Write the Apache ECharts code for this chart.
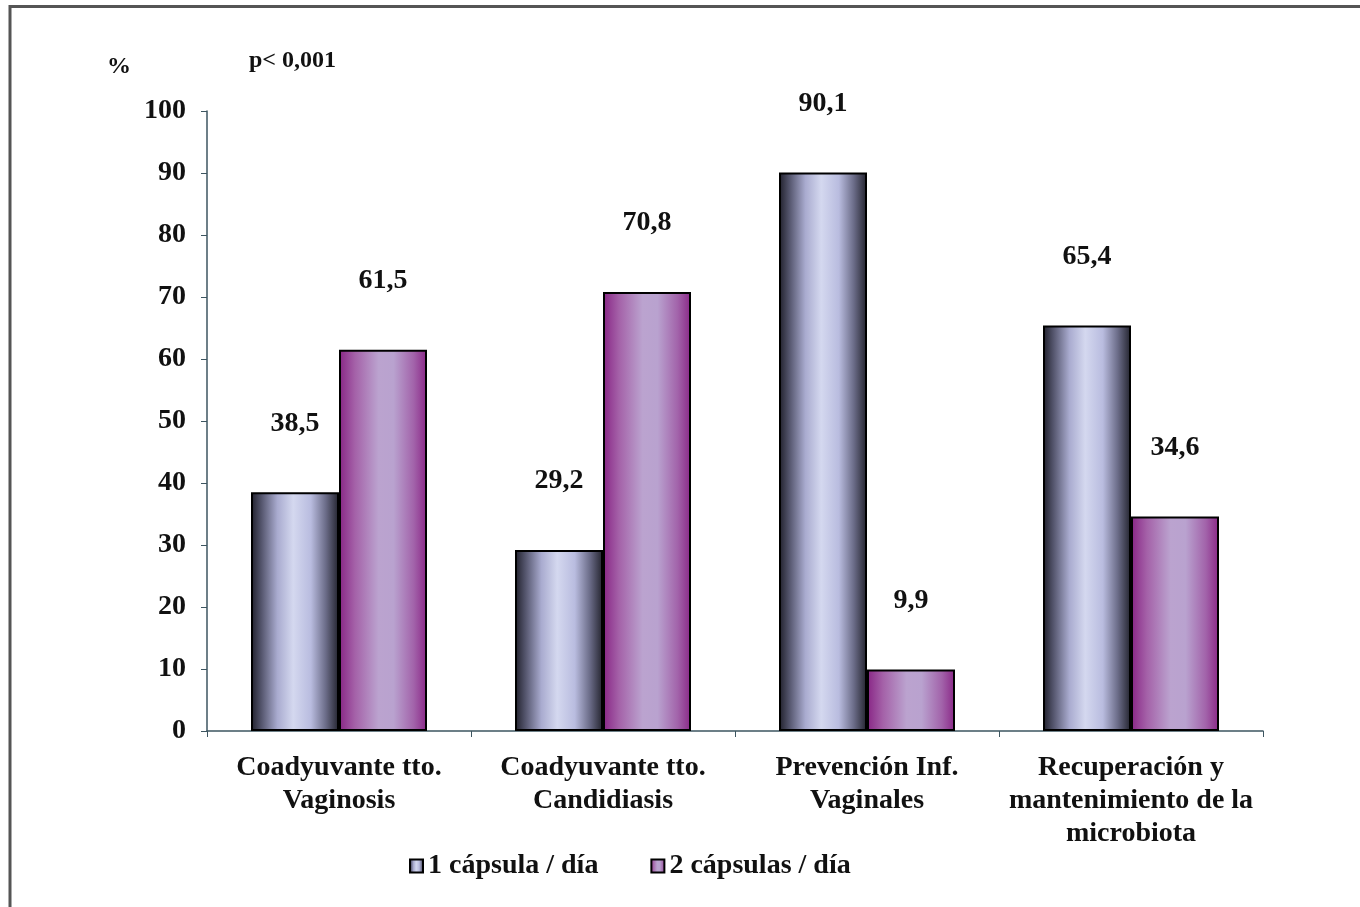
<!DOCTYPE html>
<html>
<head>
<meta charset="utf-8">
<script src="https://cdn.jsdelivr.net/npm/echarts@6/dist/echarts.min.js"></script>
<style>
  html, body { margin: 0; padding: 0; background: #ffffff; }
  #chart { width: 1360px; height: 907px; }
</style>
</head>
<body>
<div id="chart"></div>
<script>
// Categories and percentages per dosage
const categories = [
  'Coadyuvante tto.\nVaginosis',
  'Coadyuvante tto.\nCandidiasis',
  'Prevención Inf.\nVaginales',
  'Recuperación y\nmantenimiento de la\nmicrobiota'
];
const seriesNames = ['1 cápsula / día', '2 cápsulas / día'];
const oneCapsule = [38.5, 29.2, 90.1, 65.4];
const twoCapsules = [61.5, 70.8, 9.9, 34.6];
const yTicks = [0, 10, 20, 30, 40, 50, 60, 70, 80, 90, 100];

const FONT = '"Liberation Serif", "DejaVu Serif", serif';
const SIZE = 28;

const chart = echarts.init(document.getElementById('chart'));

function grad(stops) {
  return new echarts.graphic.LinearGradient(0, 0, 1, 0,
    stops.map(s => ({ offset: s[0], color: s[1] })));
}

const lavender = grad([
  [0, '#1f1f2a'], [0.12, '#55566e'], [0.3, '#a9abcf'],
  [0.48, '#d4d8ef'], [0.68, '#b9bcdf'], [0.85, '#6b6c88'], [1, '#22222c']
]);
const purple = grad([
  [0, '#882585'], [0.18, '#a461a8'], [0.45, '#bba3cf'],
  [0.62, '#b9a2cf'], [0.85, '#a263aa'], [1, '#8a2787']
]);

const fmt = p => String(p.value).replace('.', ',');

const labelStyle = {
  show: true,
  position: 'top',
  distance: 55,
  formatter: fmt,
  fontFamily: FONT,
  fontWeight: 'bold',
  fontSize: SIZE,
  color: '#111'
};

chart.setOption({
  backgroundColor: '#ffffff',
  animation: false,
  grid: { left: 207, right: 97, top: 111, bottom: 176 },
  legend: {
    left: 404,
    top: 847,
    icon: 'rect',
    itemWidth: 13,
    itemHeight: 13,
    itemGap: 52,
    data: seriesNames,
    itemStyle: { borderColor: '#000', borderWidth: 2 },
    textStyle: { fontFamily: FONT, fontWeight: 'bold', fontSize: SIZE, color: '#111' }
  },
  xAxis: {
    type: 'category',
    data: categories,
    axisLine: { lineStyle: { color: '#3d5560', width: 1.5 } },
    axisTick: { show: true, length: 6, alignWithLabel: false, lineStyle: { color: '#3d5560' } },
    axisLabel: {
      interval: 0,
      margin: 20,
      fontFamily: FONT,
      fontWeight: 'bold',
      fontSize: SIZE,
      lineHeight: 33,
      color: '#111'
    }
  },
  yAxis: {
    type: 'value',
    min: yTicks[0],
    max: yTicks[yTicks.length - 1],
    interval: 10,
    splitLine: { show: false },
    axisLine: { show: true, lineStyle: { color: '#3d5560', width: 1.5 } },
    axisTick: { show: true, length: 6, inside: false, lineStyle: { color: '#3d5560' } },
    axisLabel: {
      margin: 21,
      fontFamily: FONT,
      fontWeight: 'bold',
      fontSize: SIZE,
      color: '#111'
    }
  },
  series: [
    {
      name: seriesNames[0],
      type: 'bar',
      data: oneCapsule,
      barWidth: 88,
      barGap: '0%',
      itemStyle: { color: lavender, borderColor: '#000', borderWidth: 2 },
      label: labelStyle
    },
    {
      name: seriesNames[1],
      type: 'bar',
      data: twoCapsules,
      barWidth: 88,
      barGap: '0%',
      itemStyle: { color: purple, borderColor: '#000', borderWidth: 2 },
      label: labelStyle
    }
  ],
  graphic: [
    {
      type: 'rect',
      shape: { x: 10, y: 6.5, width: 1400, height: 960 },
      style: { fill: 'none', stroke: '#555', lineWidth: 3 },
      silent: true
    },
    {
      type: 'text',
      left: 107, top: 55,
      style: { text: '%', fontFamily: FONT, fontWeight: 'bold', fontSize: 24, fill: '#111' }
    },
    {
      type: 'text',
      left: 249, top: 49,
      style: { text: 'p< 0,001', fontFamily: FONT, fontWeight: 'bold', fontSize: 24, fill: '#111' }
    }
  ]
});
</script>
</body>
</html>
